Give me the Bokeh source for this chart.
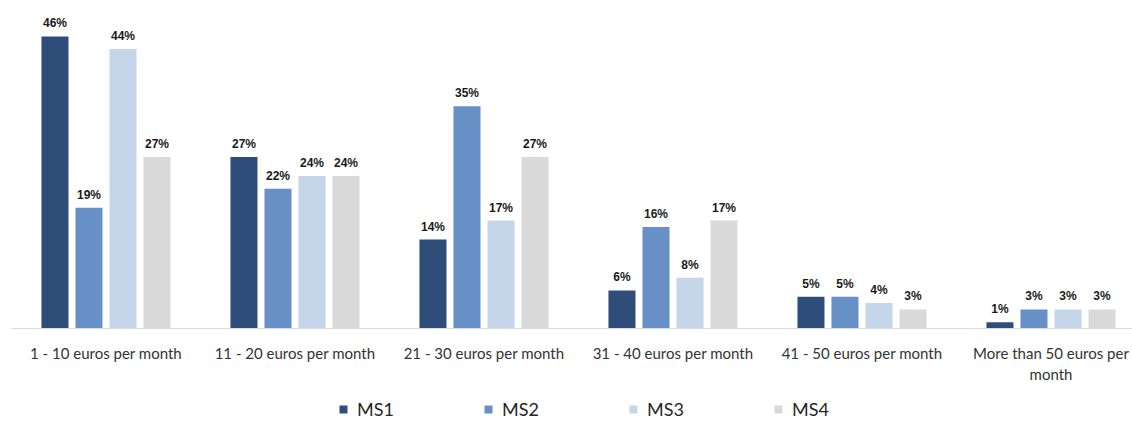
from bokeh.plotting import figure
from bokeh.layouts import column
from bokeh.models import ColumnDataSource, FixedTicker, Legend, LegendItem, Range1d
from bokeh.transform import dodge
from bokeh.core.properties import value
from bokeh.embed import file_html
from bokeh.resources import INLINE

categories = ["1 - 10 euros per month", "11 - 20 euros per month", "21 - 30 euros per month",
              "31 - 40 euros per month", "41 - 50 euros per month", "More than 50 euros per\nmonth"]
series = ["MS1", "MS2", "MS3", "MS4"]
ms1 = [46, 27, 14, 6, 5, 1]
ms2 = [19, 22, 35, 16, 5, 3]
ms3 = [44, 24, 17, 8, 4, 3]
ms4 = [27, 24, 27, 17, 3, 3]
colors = ["#2E4D78", "#6690C6", "#C5D6EA", "#D9D9D9"]
offsets = [-0.27, -0.09, 0.09, 0.27]

W = 1132
H_MAIN, H_LEG = 396, 25
LEFT = 11
p = figure(width=W, height=H_MAIN, output_backend="svg", toolbar_location=None,
           x_range=Range1d(-0.5, -0.5 + (W - LEFT) / 189.0), y_range=Range1d(0, 50.08),
           min_border_left=LEFT, min_border_right=0, min_border_top=10,
           min_border_bottom=H_MAIN - 328)
p.outline_line_color = None
p.xgrid.visible = False
p.ygrid.visible = False
p.yaxis.visible = False
p.background_fill_color = "white"

xs = list(range(len(categories)))
for name, vals, col, off in zip(series, [ms1, ms2, ms3, ms4], colors, offsets):
    src = ColumnDataSource(dict(x=xs, v=vals, lab=[f"{v}%" for v in vals]))
    p.vbar(x=dodge("x", off), top="v", width=0.143, source=src,
           fill_color=col, line_color=None)
    p.text(x=dodge("x", off), y="v", text="lab", source=src, text_align="center",
           text_baseline="bottom", y_offset=-6, text_font=value("Liberation Sans"),
           text_font_size="12px", text_font_style="bold", text_color="#1a1a1a")

ax = p.xaxis[0]
ax.ticker = FixedTicker(ticks=xs)
ax.major_label_overrides = {i: c for i, c in enumerate(categories)}
ax.major_tick_line_color = None
ax.minor_tick_line_color = None
ax.major_tick_out = 0
ax.major_tick_in = 0
ax.axis_line_color = "#D9D9D9"
ax.axis_line_width = 1
ax.major_label_standoff = 15
ax.major_label_text_font = "Lato"
ax.major_label_text_font_size = "15px"
ax.major_label_text_color = "#333333"

# legend strip below the chart
lf = figure(width=W, height=H_LEG, output_backend="svg", toolbar_location=None,
            x_range=Range1d(0, 1), y_range=Range1d(0, 1), x_axis_location=None,
            y_axis_location=None,
            min_border_left=0, min_border_right=0, min_border_top=0, min_border_bottom=0)
lf.outline_line_color = None
lf.xgrid.visible = False
lf.ygrid.visible = False
items = []
for name, col in zip(series, colors):
    # zero-height proxy glyph outside the visible range, used only for the legend swatch
    r = lf.vbar(x=[50], top=[0], bottom=[0], width=0.1, fill_color=col, line_color=None)
    items.append(LegendItem(label=name, renderers=[r]))
legend = Legend(items=items, orientation="horizontal", location=(327, 1),
                glyph_width=10, glyph_height=10, label_standoff=9, label_width=110,
                spacing=16, padding=0, margin=0, border_line_color=None,
                background_fill_alpha=0, label_text_font="Lato",
                label_text_font_size="18px", label_text_color="#262626")
lf.add_layout(legend, "center")

layout = column(p, lf, spacing=0)
open("out.html", "w").write(file_html(layout, INLINE))
